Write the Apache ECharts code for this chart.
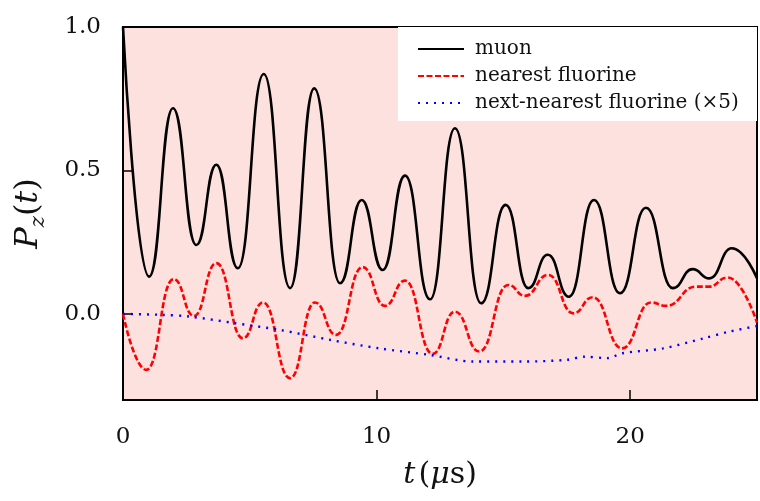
<!DOCTYPE html>
<html>
<head>
<meta charset="utf-8">
<script src="https://cdn.jsdelivr.net/npm/echarts@6/dist/echarts.min.js"></script>
<style>
  html, body { margin: 0; padding: 0; background: #fff; }
  #chart { width: 760px; height: 501px; }
</style>
</head>
<body>
<div id="chart"></div>
<script>
  // values (extrema of the oscillations)
  var muonT = [0, 1.03, 1.97, 2.89, 3.68, 4.53, 5.55, 6.59, 7.54, 8.56, 9.41, 10.24, 11.12, 12.11, 13.09, 14.12, 15.09, 15.98, 16.75, 17.59, 18.57, 19.6, 20.62, 21.68, 22.46, 23.12, 24.01, 25];
  var muonP = [1.0, 0.13, 0.717, 0.24, 0.52, 0.159, 0.836, 0.09, 0.786, 0.107, 0.397, 0.153, 0.482, 0.051, 0.647, 0.037, 0.38, 0.09, 0.206, 0.06, 0.397, 0.072, 0.37, 0.09, 0.156, 0.124, 0.229, 0.124];

  var nearT = [0, 0.92, 2.0, 2.8, 3.68, 4.73, 5.52, 6.59, 7.57, 8.4, 9.45, 10.33, 11.12, 12.21, 13.09, 14.05, 15.19, 15.85, 16.77, 17.76, 18.52, 19.68, 20.82, 21.41, 22.6, 23.1, 23.84, 25];
  var nearP = [0, -0.195, 0.121, -0.007, 0.177, -0.085, 0.04, -0.224, 0.04, -0.073, 0.163, 0.028, 0.116, -0.139, 0.008, -0.131, 0.101, 0.063, 0.136, 0.002, 0.058, -0.12, 0.04, 0.028, 0.095, 0.095, 0.127, -0.03];

  var nextT = [0, 1.5, 2.6, 4.4, 6.2, 8.2, 10.1, 12.1, 13.8, 15.8, 17.5, 18.2, 19.1, 19.7, 21.3, 22.9, 23.9, 25];
  var nextP = [0, -0.003, -0.009, -0.032, -0.056, -0.091, -0.12, -0.143, -0.166, -0.166, -0.16, -0.149, -0.154, -0.137, -0.12, -0.085, -0.062, -0.042];

  var xTicks = [0, 10, 20];
  var yTicks = [0, 0.5, 1.0];

  function pairs(xs, ys) {
    return xs.map(function (x, i) { return [x, ys[i]]; });
  }

  var font = 'DejaVu Serif';
  var chart = echarts.init(document.getElementById('chart'));
  chart.setOption({
    animation: false,
    grid: {
      left: 123, right: 3, top: 27, bottom: 101,
      show: true,
      backgroundColor: '#fde1df',
      borderColor: '#000',
      borderWidth: 2
    },
    graphic: [{
      type: 'rect',
      shape: { x: 398, y: 27, width: 359, height: 94 },
      style: { fill: '#fff' },
      z: 1
    }],
    legend: {
      orient: 'vertical',
      left: 412,
      top: 34,
      itemWidth: 46,
      itemHeight: 14,
      itemGap: 7,
      itemStyle: { opacity: 0 },
      textStyle: { fontFamily: font, fontSize: 20, color: '#111', padding: [0, 0, 0, 6] },
      data: ['muon', 'nearest fluorine', 'next-nearest fluorine (×5)']
    },
    xAxis: {
      type: 'value',
      min: 0, max: 25,
      name: '{i|t} {n|(}{i|μ}{n|s)}',
      nameLocation: 'middle',
      nameGap: 60,
      nameTextStyle: {
        rich: {
          i: { fontFamily: font, fontStyle: 'italic', fontSize: 30, color: '#111' },
          n: { fontFamily: font, fontSize: 30, color: '#111' }
        }
      },
      axisLine: { onZero: false, lineStyle: { color: '#000', width: 2 } },
      axisTick: { inside: true, length: 10, customValues: xTicks, lineStyle: { color: '#000', width: 1.5 } },
      axisLabel: { customValues: xTicks, margin: 26, fontFamily: font, fontSize: 23, color: '#111' },
      splitLine: { show: false }
    },
    yAxis: {
      type: 'value',
      min: -0.3, max: 1.0,
      name: '{i|P}{s|z}{n|(}{i|t}{n|)}',
      nameLocation: 'middle',
      nameGap: 74,
      nameTextStyle: {
        rich: {
          i: { fontFamily: font, fontStyle: 'italic', fontSize: 32, lineHeight: 40, color: '#111' },
          s: { fontFamily: font, fontStyle: 'italic', fontSize: 21, lineHeight: 26, padding: [14, 0, 0, 0], verticalAlign: 'bottom', color: '#111' },
          n: { fontFamily: font, fontSize: 32, lineHeight: 40, color: '#111' }
        }
      },
      axisLine: { onZero: false, lineStyle: { color: '#000', width: 2 } },
      axisTick: { inside: true, length: 10, customValues: yTicks, lineStyle: { color: '#000', width: 1.5 } },
      axisLabel: {
        customValues: yTicks, margin: 22, fontFamily: font, fontSize: 23, color: '#111',
        formatter: function (v) { return v.toFixed(1); }
      },
      splitLine: { show: false }
    },
    series: [{
      name: 'muon',
      type: 'line',
      data: pairs(muonT, muonP),
      symbol: 'none',
      smooth: 0.5,
      smoothMonotone: 'x',
      lineStyle: { color: '#000', width: 2.6 },
      itemStyle: { color: '#000' },
      z: 3
    }, {
      name: 'nearest fluorine',
      type: 'line',
      data: pairs(nearT, nearP),
      symbol: 'none',
      smooth: 0.5,
      smoothMonotone: 'x',
      lineStyle: { color: '#f00', width: 2.6, type: [6, 2.5] },
      itemStyle: { color: '#f00' },
      z: 3
    }, {
      name: 'next-nearest fluorine (×5)',
      type: 'line',
      data: pairs(nextT, nextP),
      symbol: 'none',
      smooth: 0.3,
      lineStyle: { color: '#00f', width: 2.4, type: [2, 6] },
      itemStyle: { color: '#00f' },
      z: 3
    }]
  });
</script>
</body>
</html>
